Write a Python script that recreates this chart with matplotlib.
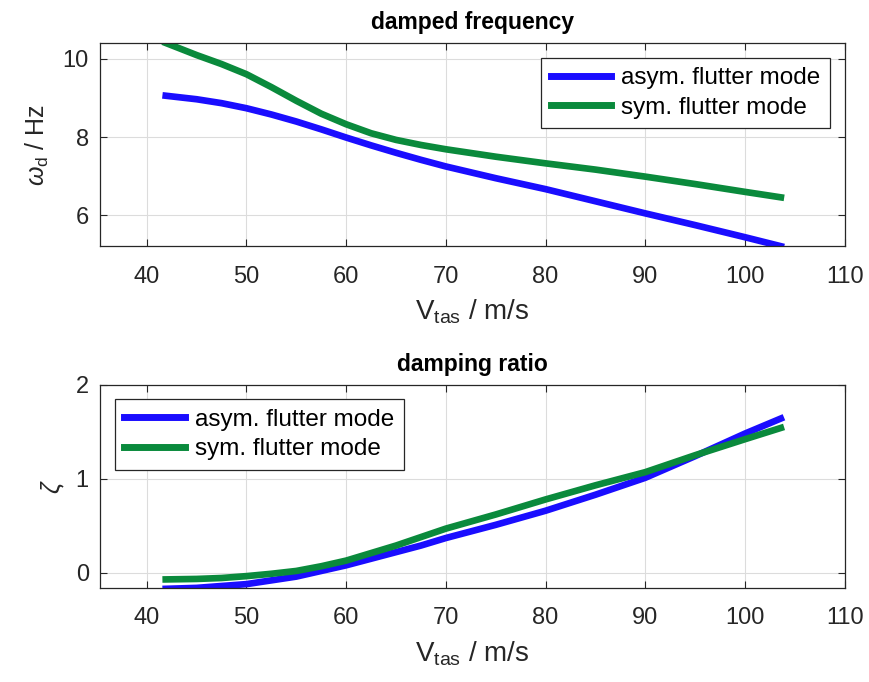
import matplotlib.pyplot as plt
import numpy as np

# airspeed / m/s
v_tas = [41.9, 45, 47.5, 50, 52.5, 55, 57.5, 60, 62.5, 65, 67.5, 70,
         75, 80, 85, 90, 95, 100, 103.6]

# damped frequency / Hz
wd_asym = [9.06, 8.97, 8.87, 8.74, 8.58, 8.40, 8.20, 7.99, 7.79, 7.60, 7.42, 7.25,
           6.95, 6.67, 6.36, 6.05, 5.75, 5.44, 5.21]
wd_sym = [10.41, 10.10, 9.87, 9.61, 9.28, 8.93, 8.60, 8.33, 8.10, 7.93, 7.80, 7.69,
          7.50, 7.33, 7.17, 6.99, 6.80, 6.60, 6.46]

# damping ratio
zeta_asym = [-0.17, -0.16, -0.14, -0.12, -0.08, -0.04, 0.02, 0.08, 0.15, 0.22, 0.29, 0.37,
             0.51, 0.66, 0.83, 1.01, 1.24, 1.48, 1.64]
zeta_sym = [-0.07, -0.065, -0.055, -0.035, -0.01, 0.02, 0.07, 0.13, 0.21, 0.29, 0.38, 0.47,
            0.62, 0.78, 0.93, 1.07, 1.25, 1.42, 1.54]

labels = ["asym. flutter mode", "sym. flutter mode"]
xticks = [40, 50, 60, 70, 80, 90, 100, 110]

plt.rcParams['font.family'] = ['Liberation Sans', 'DejaVu Sans']
plt.rcParams['mathtext.fontset'] = 'custom'
plt.rcParams['mathtext.rm'] = 'Liberation Sans'
plt.rcParams['mathtext.it'] = 'Liberation Sans:italic'

blue = '#1a0dff'
green = '#0a8a3c'
spine_c = '#262626'

fig = plt.figure(figsize=(8.69, 6.82), dpi=100)
ax1 = fig.add_axes([0.115, 0.639, 0.857, 0.298])
ax2 = fig.add_axes([0.115, 0.138, 0.857, 0.298])


def style(ax):
    ax.set_xlim(35.3, 110)
    ax.set_xticks(xticks)
    ax.grid(True, color='#dcdcdc', linewidth=0.8)
    ax.set_axisbelow(True)
    ax.tick_params(direction='in', top=True, right=True, labelsize=17,
                   colors=spine_c, length=5, width=0.8)
    ax.tick_params(axis='x', pad=14)
    ax.tick_params(axis='y', pad=8)
    for s in ax.spines.values():
        s.set_color(spine_c)
        s.set_linewidth(0.9)
    ax.set_xlabel(r'V$_{\mathrm{tas}}$ / m/s', fontsize=20, color=spine_c, labelpad=7)


def legend(ax, loc):
    leg = ax.legend(loc=loc, fontsize=17.5, handlelength=2.5, fancybox=False,
                    edgecolor=spine_c, framealpha=1, borderaxespad=0.6,
                    labelspacing=0.3, handletextpad=0.4, borderpad=0.4)
    leg.get_frame().set_linewidth(0.9)
    for h in leg.get_lines():
        h.set_linewidth(5)


ax1.plot(v_tas, wd_asym, color=blue, lw=4.8, label=labels[0])
ax1.plot(v_tas, wd_sym, color=green, lw=4.8, label=labels[1])
style(ax1)
ax1.set_ylim(5.21, 10.41)
ax1.set_yticks([6, 8, 10])
ax1.set_ylabel(r'$\omega_{\mathrm{d}}$ / Hz', fontsize=18, color=spine_c, labelpad=8)
ax1.set_title('damped frequency', fontsize=16.5, fontweight='bold', pad=10)
legend(ax1, 'upper right')

ax2.plot(v_tas, zeta_asym, color=blue, lw=4.8, label=labels[0])
ax2.plot(v_tas, zeta_sym, color=green, lw=4.8, label=labels[1])
style(ax2)
ax2.set_ylim(-0.16, 2)
ax2.set_yticks([0, 1, 2])
ax2.set_ylabel(r'$\zeta$', fontsize=18, color=spine_c, labelpad=6)
ax2.set_title('damping ratio', fontsize=16.5, fontweight='bold', pad=10)
legend(ax2, 'upper left')

fig.savefig('out.png', dpi=100)
